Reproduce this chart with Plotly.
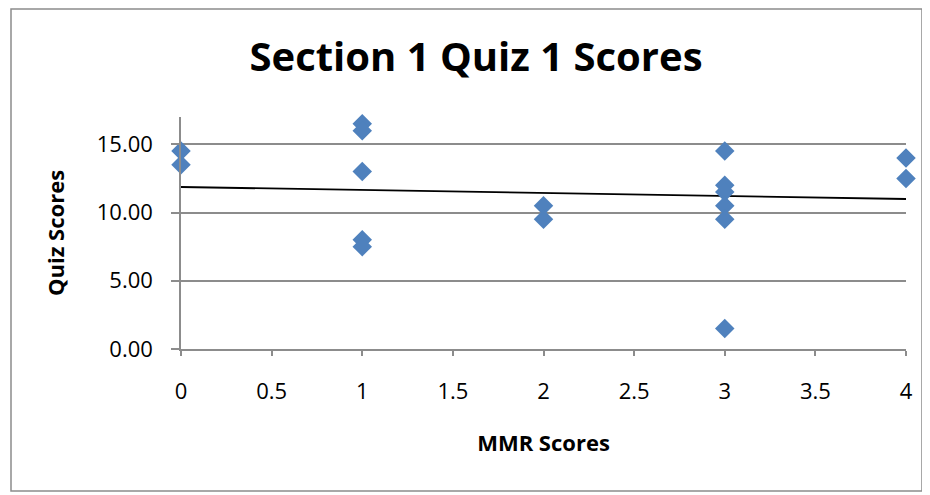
import plotly.graph_objects as go

# Data
mmr_scores = [0, 0, 1, 1, 1, 1, 1, 2, 2, 3, 3, 3, 3, 3, 3, 4, 4]
quiz_scores = [14.5, 13.5, 16.5, 16.0, 13.0, 8.0, 7.5, 10.5, 9.5,
               14.5, 12.0, 11.5, 10.5, 9.5, 1.5, 14.0, 12.5]
trend_x = [0, 4]
trend_y = [11.87, 10.99]

x_ticks = [0, 0.5, 1, 1.5, 2, 2.5, 3, 3.5, 4]
x_tick_labels = ["0", "0.5", "1", "1.5", "2", "2.5", "3", "3.5", "4"]
y_ticks = [0, 5, 10, 15]

# page body has an 8px margin, so the figure is drawn offset by 8px
OFF = 8
W, H = 930 - OFF, 495 - OFF
PL, PR, PT, PB = 181 - OFF, 906 - OFF, 117 - OFF, 349 - OFF  # plot area pixels

FONT = "Open Sans"
GRAY = "#8c8c8c"

fig = go.Figure()
fig.add_trace(go.Scatter(
    x=trend_x, y=trend_y, mode="lines",
    line=dict(color="black", width=1.8), showlegend=False))
fig.add_trace(go.Scatter(
    x=mmr_scores, y=quiz_scores, mode="markers", cliponaxis=False,
    marker=dict(symbol="diamond", size=15, color="#4F81BD", line=dict(width=0)),
    showlegend=False, hoverinfo="x+y"))

def px_to_paper_x(px):
    return (px - PL) / (PR - PL)

def px_to_paper_y(py):
    return (PB - py) / (PB - PT)

fig.add_shape(type="rect", xref="paper", yref="paper",
              x0=px_to_paper_x(11 - OFF), x1=px_to_paper_x(922 - OFF),
              y0=px_to_paper_y(491 - OFF), y1=px_to_paper_y(1),
              line=dict(color=GRAY, width=1.5), layer="below")

fig.update_layout(
    width=W, height=H,
    margin=dict(l=PL, r=W - PR, t=PT, b=H - PB, autoexpand=False),
    paper_bgcolor="white", plot_bgcolor="white",
    font=dict(family=FONT, color="black"),
    title=dict(text="<b>Section 1 Quiz 1 Scores</b>", font=dict(size=40, family=FONT),
               xref="container", yref="container", x=(476 - OFF) / W, y=1 - (57 - OFF) / H,
               xanchor="center", yanchor="middle"),
    xaxis=dict(range=[0, 4], tickvals=x_ticks, ticktext=x_tick_labels,
               showgrid=False, zeroline=False, showline=True, linecolor=GRAY, linewidth=1.5,
               ticks="outside", ticklen=5, tickcolor=GRAY, tickwidth=1.5,
               tickfont=dict(size=22), ticklabelstandoff=17,
               title=dict(text="<b>MMR Scores</b>", font=dict(size=22), standoff=31)),
    yaxis=dict(range=[0, 17], tickvals=y_ticks, tickformat=".2f",
               showgrid=True, gridcolor=GRAY, gridwidth=1.5, zeroline=False,
               showline=True, linecolor=GRAY, linewidth=1.5,
               ticks="outside", ticklen=8, tickcolor=GRAY, tickwidth=1.5,
               tickfont=dict(size=22), ticklabelstandoff=14,
               title=dict(text="<b>Quiz Scores</b>", font=dict(size=22), standoff=26)),
)

fig.write_html("out.html")
